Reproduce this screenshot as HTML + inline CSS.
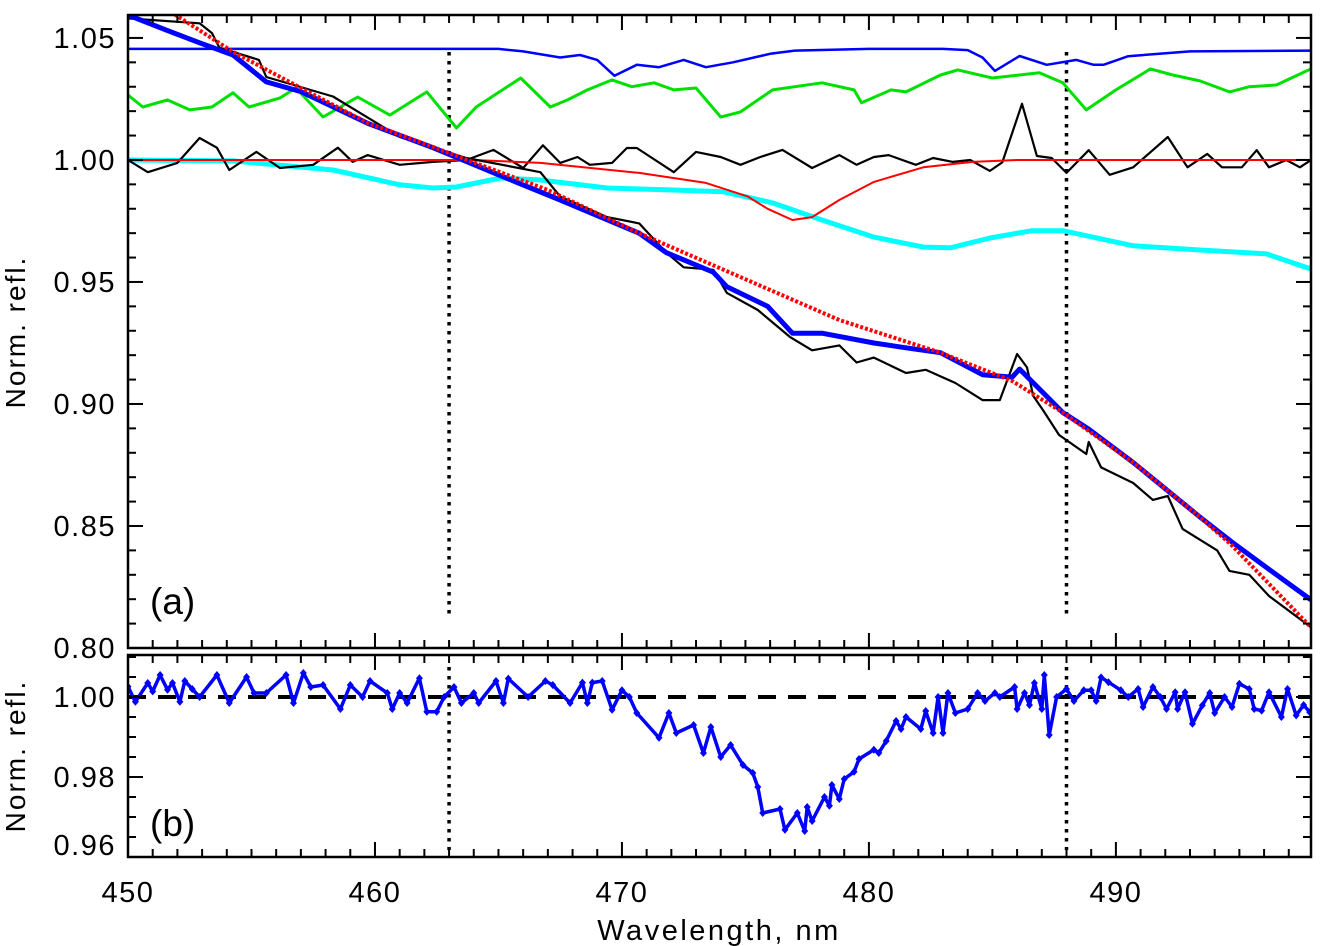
<!DOCTYPE html>
<html><head><meta charset="utf-8"><style>
body{margin:0;background:#fff;}
svg{display:block;font-family:"Liberation Sans",sans-serif;}
</style></head><body>
<svg id="chart" width="1322" height="946" viewBox="0 0 1322 946" xmlns="http://www.w3.org/2000/svg">
<defs>
<clipPath id="clipA"><rect x="128" y="15" width="1183" height="633"/></clipPath>
<clipPath id="clipB"><rect x="128" y="655" width="1183" height="202"/></clipPath>
</defs>
<g id="gA" clip-path="url(#clipA)"></g>
<g id="gB" clip-path="url(#clipB)"></g>
<g id="axes"></g>
<text x="150" y="614" font-size="37">(a)</text>
<text x="150" y="836" font-size="37">(b)</text>
<text x="719" y="940" font-size="29" letter-spacing="2.5" text-anchor="middle">Wavelength,  nm</text>
<text transform="translate(25,332) rotate(-90)" font-size="28" letter-spacing="2" text-anchor="middle">Norm.  refl.</text>
<text transform="translate(25,756) rotate(-90)" font-size="28" letter-spacing="2" text-anchor="middle">Norm.  refl.</text>
</svg>
<script>
const contNm=[450,451.8,454.25,457,459.7,462.35,464,467,470.7,474.8,478.8,482.9,485.8,487.85,490.7,493.4,494.7,497.9];
const contVal=[1.067,1.0602,1.0443,1.0295,1.0152,1.0053,0.999,0.9877,0.970,0.952,0.9344,0.921,0.9094,0.8965,0.876,0.8537,0.842,0.8085];
const specBlueNm=[450,451.6,452.9,454.25,455.6,457,459.7,462.35,465.7,467.5,470.7,471.8,473.7,474.25,475.9,476.9,478.1,480.2,481.5,482.9,484.6,485.8,486.1,487.85,488.9,490.7,493.4,494.7,496.1,497.9];
const specBlueVal=[1.0594,1.053,1.048,1.043,1.032,1.028,1.015,1.005,0.991,0.9836,0.970,0.962,0.954,0.948,0.940,0.929,0.929,0.925,0.923,0.921,0.912,0.911,0.9143,0.8965,0.8897,0.876,0.8537,0.8434,0.833,0.8197];
const specBlackNm=[450,452.9,453.4,453.7,455.3,455.6,458.3,461,462.35,463.7,466.7,467.5,469.4,470.7,471.8,472.5,473.7,474.25,475.5,476.8,477.7,478.8,479.5,480.2,481.5,482.3,483.5,484.6,485.3,486.0,486.4,486.65,487.05,487.7,488.8,488.9,489.4,490.7,491.5,492.1,492.7,494.1,494.6,495.4,496.2,497.9];
const specBlackVal=[1.058,1.056,1.052,1.046,1.041,1.034,1.026,1.0094,1.005,1.0008,0.995,0.985,0.9766,0.974,0.962,0.956,0.955,0.9455,0.9385,0.9275,0.922,0.924,0.917,0.919,0.9127,0.914,0.9086,0.9016,0.9016,0.9205,0.915,0.9033,0.8975,0.8873,0.8795,0.8844,0.874,0.8676,0.8607,0.8623,0.8488,0.840,0.8316,0.830,0.8213,0.8085];
const thinBlueNm=[450,465,466,467.5,468.3,469,469.7,470.6,471.5,472.5,473.4,474.5,476,477,480,483,484,484.6,485.1,486.1,487.2,488.4,489.1,489.5,490.5,493,497.9];
const thinBlueVal=[1.0455,1.0455,1.0445,1.042,1.043,1.041,1.0345,1.039,1.038,1.041,1.038,1.040,1.0435,1.0448,1.0455,1.0455,1.045,1.042,1.0365,1.0426,1.039,1.041,1.039,1.039,1.0425,1.0445,1.0448];
const greenNm=[450,450.6,451.6,452.5,453.4,454.25,454.9,456.15,456.8,457.9,459.3,460.6,462.1,463.3,464.1,465.9,467.1,467.8,468.6,469.6,470.4,471.3,472.1,473.0,474.0,474.8,476.1,478.1,479.4,479.7,480.9,481.5,482.9,483.6,485.0,486.9,487.85,488.8,490.0,491.4,492.3,493.4,494.6,495.4,496.5,497.9];
const greenVal=[1.0266,1.0217,1.0246,1.0205,1.0217,1.0275,1.0217,1.0254,1.0295,1.0176,1.0258,1.0184,1.0279,1.0131,1.0217,1.0336,1.0217,1.0246,1.0287,1.0328,1.030,1.0316,1.0287,1.0295,1.0176,1.0197,1.0287,1.0316,1.0287,1.0234,1.0287,1.0279,1.0348,1.0369,1.0336,1.0357,1.0316,1.0205,1.0287,1.0373,1.0348,1.0324,1.0279,1.030,1.0307,1.0373];
const resNm=[450,450.8,452.0,452.9,453.6,454.1,455.2,456.15,457.5,458.5,459.1,459.7,461.0,462.35,463.7,464.8,466.0,466.8,467.5,468.2,468.7,469.6,470.2,470.6,472.1,473.0,474.0,474.8,475.6,476.5,477.7,478.8,479.5,480.2,480.8,481.9,482.6,483.4,484.1,484.9,485.4,486.2,486.8,487.4,488.0,488.9,489.75,490.7,492.1,492.9,493.7,494.3,495.1,495.7,496.2,496.9,497.45,497.9];
const resVal=[1.0,0.995,0.9988,1.009,1.005,0.9959,1.0033,0.9967,0.998,1.005,0.9992,1.002,0.998,0.9992,1.0,1.0041,0.9967,1.006,0.9988,1.0012,0.998,0.9988,1.0049,1.0049,0.995,1.0033,1.0012,0.998,1.0012,1.0041,0.9967,1.002,0.998,1.0012,1.002,0.998,1.0008,0.9992,1.0,0.9955,0.999,1.023,1.0016,1.0008,0.9947,1.004,0.9939,0.997,1.0094,0.997,1.0025,0.997,0.997,1.004,0.997,1.0,0.997,1.0];
const lineNm=[450,464,466.7,470.7,473.4,475.1,475.9,476.9,477.7,478.8,480.2,482.2,484.2,486,497.9];
const lineVal=[1.0,1.0,0.9988,0.9947,0.9906,0.985,0.980,0.9754,0.9766,0.9836,0.991,0.997,0.9992,1.0,1.0];
const cyanNm=[450,454.25,458.3,461,462.35,463.3,465.1,466.7,469.4,472.1,474.1,476.1,478.1,480.2,482.2,483.3,484.9,486.6,487.85,490.7,493.4,496.1,497.9];
const cyanVal=[1.0,0.9996,0.9959,0.9898,0.9885,0.9889,0.9926,0.9918,0.9885,0.9877,0.987,0.9824,0.9754,0.9684,0.9643,0.964,0.968,0.971,0.971,0.9648,0.9631,0.9615,0.9553];
const ratioNm=[450.0,450.3,450.8,451.0,451.3,451.6,451.8,452.1,452.3,452.6,452.9,453.6,454.1,454.8,455.1,455.6,456.4,456.7,457.1,457.4,457.9,458.6,459.0,459.5,459.8,460.5,460.7,461.0,461.3,461.8,462.1,462.5,462.8,463.2,463.5,464.0,464.2,464.9,465.2,465.4,466.2,466.9,467.2,467.9,468.4,468.6,468.8,469.2,469.6,470.0,470.3,470.6,471.5,471.9,472.2,472.9,473.3,473.6,474.0,474.4,474.9,475.3,475.5,475.7,476.4,476.6,477.1,477.4,477.5,477.7,478.2,478.4,478.5,478.8,479.0,479.4,479.6,480.2,480.4,480.7,481.1,481.3,481.5,482.1,482.3,482.6,482.8,483.0,483.2,483.5,484.0,484.4,484.7,485.1,485.3,485.9,486.0,486.3,486.5,486.7,487.0,487.1,487.3,487.6,488.0,488.3,488.7,489.0,489.2,489.4,489.7,490.2,490.5,490.9,491.1,491.5,491.8,492.05,492.4,492.5,492.8,493.1,493.5,493.8,494.0,494.4,494.7,495.0,495.4,495.6,495.9,496.2,496.7,496.95,497.3,497.6,497.85];
const ratioVal=[1.0026,0.9988,1.0035,1.0014,1.0055,1.0018,1.0035,0.9988,1.004,1.002,1.0,1.0055,0.9985,1.005,1.001,1.001,1.0055,0.9985,1.006,1.0025,1.003,0.997,1.003,1.0,1.004,1.001,0.997,1.001,0.9985,1.0047,0.9963,0.9963,1.0,1.0025,0.9985,1.001,0.9985,1.004,0.9985,1.0046,1.0,1.004,1.003,0.9985,1.0036,0.9985,1.0036,1.004,0.9968,1.0017,1.0,0.996,0.9898,0.996,0.991,0.993,0.986,0.9925,0.985,0.988,0.983,0.981,0.9775,0.971,0.972,0.9668,0.971,0.9665,0.9725,0.969,0.975,0.9728,0.978,0.9745,0.9795,0.9813,0.9845,0.9868,0.986,0.989,0.994,0.992,0.995,0.992,0.9965,0.991,1.0,0.991,1.001,0.996,0.997,1.001,0.999,1.001,1.0,1.0025,0.997,1.001,0.998,1.0035,0.997,1.0055,0.9905,1.0,1.002,0.999,1.0017,1.0017,0.999,1.0049,1.0037,1.0017,1.0,1.002,0.9975,1.0025,1.0,0.997,1.0012,0.997,1.0012,0.9933,0.9979,1.001,0.996,1.0,0.9975,1.0033,1.002,0.997,0.9966,1.0012,0.995,1.002,0.9954,0.998,0.9962];
const markerNm=[463,488];
const xTicks=[450,460,470,480,490];
const yTicksA=[0.80,0.85,0.90,0.95,1.00,1.05];
const yTicksB=[0.96,0.98,1.00];

const NS='http://www.w3.org/2000/svg';
const X0=450,X1=497.9,PX0=128,PX1=1311;
const A_T=15,A_B=648,A_V0=0.80,A_V1=1.0594;
const B_T=655,B_B=857,B_V0=0.96,B_V1=1.0105;
const xs=v=>PX0+(v-X0)/(X1-X0)*(PX1-PX0);
const ya=v=>A_B-(v-A_V0)/(A_V1-A_V0)*(A_B-A_T);
const yb=v=>B_B-(v-B_V0)/(B_V1-B_V0)*(B_B-B_T);
function mk(tag,attrs,parent){const e=document.createElementNS(NS,tag);for(const k in attrs)e.setAttribute(k,attrs[k]);parent.appendChild(e);return e;}
const gA=document.getElementById('gA'),gB=document.getElementById('gB'),ax=document.getElementById('axes');
function pts(nm,val,yf){return nm.map((n,i)=>xs(n).toFixed(1)+','+yf(val[i]).toFixed(1)).join(' ');}
function series(nm,val,yf,g,color,w,name,dash){
  const p=mk('polyline',{points:pts(nm,val,yf),fill:'none',stroke:color,'stroke-width':w,'stroke-linejoin':'round'},g);
  if(dash)p.setAttribute('stroke-dasharray',dash);
  
  
  return p;
}
markerNm.forEach(m=>{
  const l=mk('line',{x1:xs(m),x2:xs(m),y1:52,y2:616,stroke:'#000','stroke-width':3.5,'stroke-dasharray':'3.5,5.5'},gA);
  
  
});
series(cyanNm,cyanVal,ya,gA,'#00ffff',5,'cyan-curve');
series(thinBlueNm,thinBlueVal,ya,gA,'#0000ff',2.5,'thin-blue-curve');
series(greenNm,greenVal,ya,gA,'#00e000',3,'green-curve');
series(resNm,resVal,ya,gA,'#000',2.2,'residual-black-curve');
series(lineNm,lineVal,ya,gA,'#ff0000',2,'absorption-model-line');
series(specBlackNm,specBlackVal,ya,gA,'#000',2.2,'black-spectrum');
series(specBlueNm,specBlueVal,ya,gA,'#0000ff',5,'blue-spectrum');
series(contNm,contVal,ya,gA,'#ff0000',4,'continuum-fit','3,2');
markerNm.forEach(m=>{
  const l=mk('line',{x1:xs(m),x2:xs(m),y1:667,y2:850,stroke:'#000','stroke-width':3.5,'stroke-dasharray':'3.5,5.5'},gB);
  
  
});
const ref=mk('line',{x1:PX0,x2:PX1,y1:yb(1),y2:yb(1),stroke:'#000','stroke-width':4,'stroke-dasharray':'18,12'},gB);


series(ratioNm,ratioVal,yb,gB,'#0000ff',3.5,'ratio-curve');
ratioNm.forEach((n,i)=>{
  const x=xs(n),y=yb(ratioVal[i]);
  const d=mk('polygon',{points:`${x},${y-4} ${x+3.5},${y} ${x},${y+4} ${x-3.5},${y}`,fill:'#0000ff'},gB);
  
  
});
[[A_T,A_B],[B_T,B_B]].forEach(([t,b],k)=>{
  const r=mk('rect',{x:PX0,y:t,width:PX1-PX0,height:b-t,fill:'none',stroke:'#000','stroke-width':2.5},ax);
  
  
});
function xt(t,b){
  for(let n=450;n<=497;n++){
    const L=(n%10===0)?15:8;
    mk('line',{x1:xs(n),x2:xs(n),y1:b,y2:b-L,stroke:'#000','stroke-width':2},ax);
    mk('line',{x1:xs(n),x2:xs(n),y1:t,y2:t+L,stroke:'#000','stroke-width':2},ax);
  }
}
xt(A_T,A_B);xt(B_T,B_B);
xTicks.forEach(v=>{
  const t=mk('text',{x:xs(v),y:902,'font-size':29,'letter-spacing':1.5,'text-anchor':'middle'},ax);
  t.textContent=v;
  
  
});
for(let i=80;i<=105;i++){
  const v=i/100,L=(i%5===0)?15:8,y=ya(v);
  mk('line',{x1:PX0,x2:PX0+L,y1:y,y2:y,stroke:'#000','stroke-width':2},ax);
  mk('line',{x1:PX1,x2:PX1-L,y1:y,y2:y,stroke:'#000','stroke-width':2},ax);
}
yTicksA.forEach(v=>{
  const t=mk('text',{x:116,y:ya(v)+10,'font-size':29,'letter-spacing':1.5,'text-anchor':'end'},ax);
  t.textContent=v.toFixed(2);
  
  
});
for(let i=0;i<=10;i++){
  const v=0.96+i*0.005,L=(i%4===0)?15:8,y=yb(v);
  mk('line',{x1:PX0,x2:PX0+L,y1:y,y2:y,stroke:'#000','stroke-width':2},ax);
  mk('line',{x1:PX1,x2:PX1-L,y1:y,y2:y,stroke:'#000','stroke-width':2},ax);
}
yTicksB.forEach(v=>{
  const t=mk('text',{x:116,y:Math.min(yb(v)+10,855),'font-size':29,'letter-spacing':1.5,'text-anchor':'end'},ax);
  t.textContent=v.toFixed(2);
  
  
});
</script>
</body></html>
